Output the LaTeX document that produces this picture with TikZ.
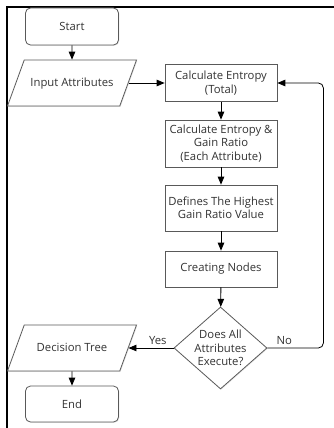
\documentclass[tikz,border=0pt]{standalone}
\usepackage{fontspec}
\setmainfont{Open Sans}
\usetikzlibrary{shapes,arrows}
\usetikzlibrary{shapes.geometric}
\usetikzlibrary{shadows}
\tikzset{%
  base/.style     = {draw=black!65, line width=0.8pt, fill=white, text=black!80,
    align=center, font=\fontsize{11.3}{13.3}\selectfont,
    drop shadow={shadow xshift=0.8pt, shadow yshift=-0.8pt, opacity=0.2}},
  term/.style     = {base, rectangle, rounded corners=5pt, minimum width=93pt,
    minimum height=37pt}, % Start / End
  block/.style    = {base, rectangle, minimum width=112pt, inner sep=1pt}, % Process
  io/.style       = {base, trapezium, trapezium left angle=70,
    trapezium right angle=110, trapezium stretches body, minimum width=129pt,
    text height=8.5pt, text depth=2.5pt, inner xsep=0pt, inner ysep=17.5pt}, % Input / Output
  decision/.style = {base, diamond, aspect=1.13, inner sep=0pt,
    minimum width=93pt, minimum height=82pt},
  label/.style    = {text=black!80, font=\fontsize{11.3}{13}\selectfont}
}
\begin{document}
\begin{tikzpicture}[x=1pt, y=-1pt, line width=0.8pt, >=triangle 45]
        \useasboundingbox (0,0) rectangle (334,428);
        \draw[line width=1.5pt] (334,7) -- (7,7) -- (7,428);
        \draw
        node at(72,26.5)[term, name=Start]{Start}
        node at(72,83)[io, name=InAttr]{Input Attributes}
        node at(221,83)[block, minimum height=37pt, name=CalcTotal]{Calculate Entropy\\(Total)}
        node at(221,143.5)[block, minimum height=47pt, name=CalcGain]{Calculate Entropy \&\\Gain Ratio\\(Each Attribute)}
        node at(221,208)[block, minimum height=46pt, name=HighGain]{Defines The Highest\\Gain Ratio Value}
        node at(221,269)[block, minimum height=36pt, name=MakeNodes]{Creating Nodes}
        node at(220.5,348)[decision, name=AllExec]{Does All\\Attributes\\Execute?}
        node at(72,348)[io, name=DecTree]{Decision Tree}
        node at(72,404)[term, minimum height=36pt, name=Stop]{End};
        \draw[->](Start) -- (InAttr);
        \draw[->](InAttr.east) -- (CalcTotal.west);
        \draw[->](CalcTotal) -- (CalcGain);
        \draw[->](CalcGain) -- (HighGain);
        \draw[->](HighGain) -- (MakeNodes);
        \draw[->](MakeNodes) -- (AllExec);
        \draw[->](AllExec.west) -- node[label, above, pos=0.35]{Yes} (DecTree.east);
        \draw[->, rounded corners=5pt](AllExec.east) -- node[label, above, pos=0.3]{No} ++(56,0)
          |- (CalcTotal.east);
        \draw[->](DecTree) -- (Stop);
    \end{tikzpicture}
\end{document}
